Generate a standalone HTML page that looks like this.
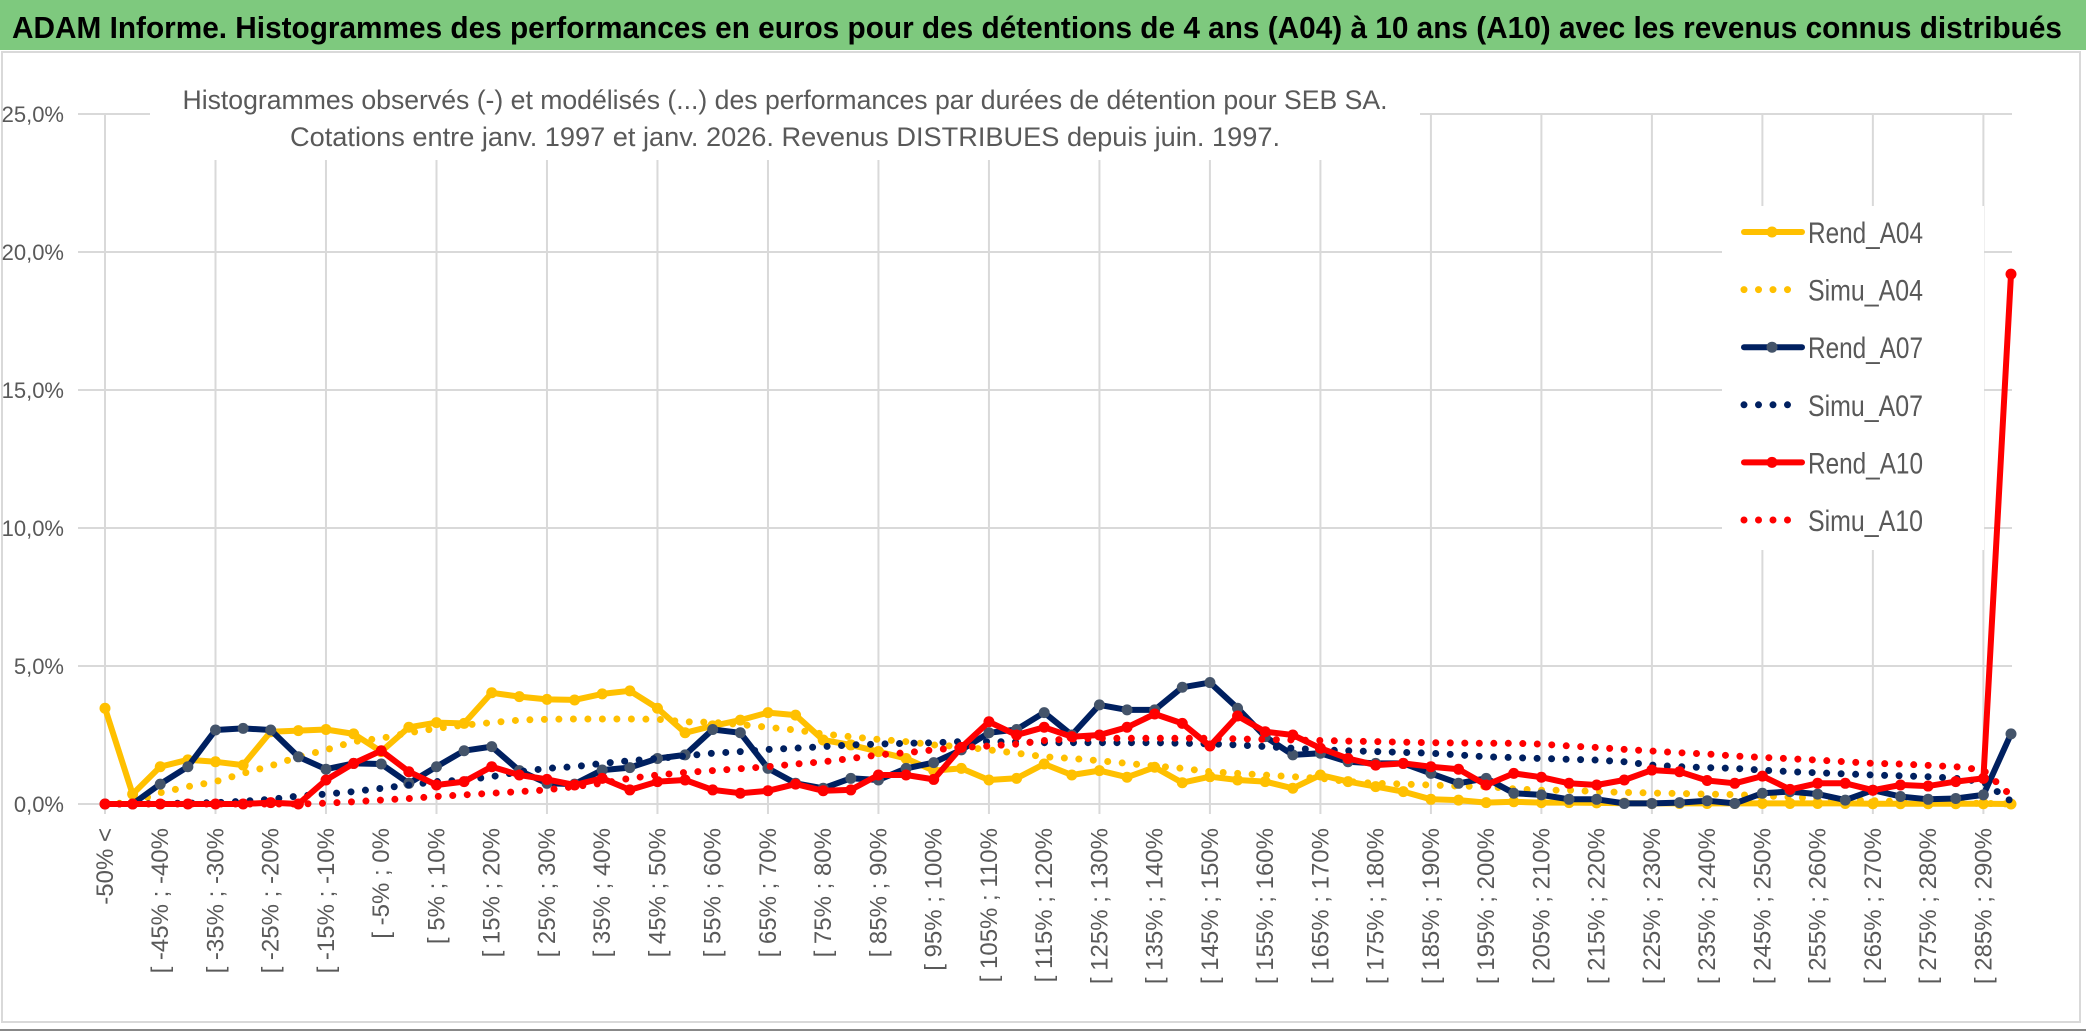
<!DOCTYPE html>
<html><head><meta charset="utf-8"><style>
html,body{margin:0;padding:0;background:#fff;}
svg{display:block;font-family:"Liberation Sans",sans-serif;}
</style></head><body>
<svg id="chart" width="2086" height="1031" viewBox="0 0 2086 1031" xmlns="http://www.w3.org/2000/svg">
<rect x="0" y="0" width="2086" height="1031" fill="#ffffff"/>
<rect x="0" y="0" width="2086" height="50" fill="#7ec97e"/>
<text x="12" y="38" font-size="31" font-weight="bold" fill="#000" textLength="2050" lengthAdjust="spacingAndGlyphs">ADAM Informe. Histogrammes des performances en euros pour des détentions de 4 ans (A04) à 10 ans (A10) avec les revenus connus distribués</text>
<rect x="2" y="52" width="2078" height="970" fill="none" stroke="#d9d9d9" stroke-width="2"/>
<line x1="0" y1="1030" x2="2086" y2="1030" stroke="#888" stroke-width="2"/>
<g id="grid"></g>
<rect x="150" y="60" width="1270" height="100" fill="#fff"/>
<text x="785" y="109" font-size="27" fill="#595959" text-anchor="middle" textLength="1205" lengthAdjust="spacingAndGlyphs">Histogrammes observés (-) et modélisés (...) des performances par durées de détention pour SEB SA.</text>
<text x="785" y="146" font-size="27" fill="#595959" text-anchor="middle" textLength="990" lengthAdjust="spacingAndGlyphs">Cotations entre janv. 1997 et janv. 2026. Revenus DISTRIBUES depuis juin. 1997.</text>
<g id="axes"></g>
<rect x="1722" y="206" width="262" height="344" fill="#fff"/>
<g id="series"></g>
<g id="legend"></g>
</svg>
<script>
const categories = ["-50% <"];
for (let k = 1; k < 70; k++) { const a = -55 + 5*k; categories.push("[ " + a + "% ; " + (a+5) + "%"); }
const yTicks = [0, 5, 10, 15, 20, 25];
const yTickLabels = ["0,0%","5,0%","10,0%","15,0%","20,0%","25,0%"];
const rendA04 = [3.47,0.36,1.35,1.6,1.53,1.41,2.62,2.66,2.7,2.54,1.9,2.78,2.95,2.92,4.03,3.89,3.79,3.77,3.99,4.1,3.47,2.58,2.83,3.04,3.31,3.22,2.32,2.14,1.9,1.65,1.21,1.29,0.87,0.93,1.45,1.05,1.21,0.97,1.33,0.77,0.99,0.87,0.81,0.57,1.05,0.81,0.63,0.45,0.17,0.14,0.05,0.08,0.05,0.05,0.04,0.03,0.02,0.02,0.02,0.02,0.02,0.02,0.02,0.02,0.01,0.01,0.01,0.01,0.01,0.0];
const simuA04 = [0,0.05,0.41,0.63,0.81,1.11,1.38,1.71,1.96,2.26,2.38,2.58,2.74,2.86,2.95,3.04,3.07,3.08,3.08,3.08,3.07,2.98,2.96,2.88,2.78,2.68,2.54,2.44,2.34,2.26,2.14,2.08,1.96,1.84,1.71,1.65,1.57,1.47,1.38,1.29,1.17,1.11,1.05,0.99,0.93,0.81,0.75,0.72,0.69,0.65,0.63,0.55,0.5,0.5,0.45,0.42,0.4,0.38,0.36,0.34,0.3,0.25,0.2,0.16,0.12,0.09,0.06,0.04,0.02,0.0];
const rendA07 = [0,0,0.72,1.35,2.68,2.74,2.68,1.71,1.26,1.47,1.45,0.75,1.35,1.93,2.08,1.21,0.75,0.72,1.23,1.32,1.65,1.78,2.7,2.58,1.29,0.75,0.57,0.93,0.87,1.29,1.5,1.96,2.58,2.7,3.31,2.5,3.59,3.41,3.41,4.23,4.4,3.47,2.44,1.78,1.84,1.53,1.47,1.47,1.11,0.75,0.93,0.39,0.33,0.17,0.17,0.02,0.02,0.05,0.12,0.02,0.39,0.45,0.36,0.14,0.5,0.27,0.17,0.2,0.33,2.54];
const simuA07 = [0,0,0.02,0.03,0.05,0.1,0.17,0.29,0.36,0.45,0.57,0.69,0.81,0.87,0.99,1.17,1.29,1.35,1.47,1.57,1.65,1.74,1.84,1.9,1.98,2.02,2.08,2.14,2.17,2.2,2.22,2.26,2.26,2.25,2.22,2.22,2.22,2.22,2.22,2.2,2.18,2.14,2.08,2.02,1.96,1.93,1.9,1.87,1.84,1.78,1.71,1.68,1.65,1.62,1.59,1.53,1.41,1.35,1.32,1.29,1.23,1.17,1.13,1.09,1.05,1.02,0.99,0.93,0.8,0.1];
const rendA10 = [0,0,0,0,0,0,0.05,0,0.87,1.47,1.93,1.17,0.69,0.81,1.35,1.05,0.89,0.69,0.93,0.51,0.81,0.87,0.51,0.39,0.48,0.72,0.48,0.51,1.05,1.05,0.89,2.05,2.98,2.5,2.78,2.44,2.5,2.78,3.26,2.92,2.1,3.19,2.62,2.5,2.02,1.65,1.41,1.47,1.35,1.26,0.69,1.11,0.97,0.75,0.69,0.87,1.23,1.17,0.85,0.75,1.01,0.53,0.75,0.75,0.5,0.69,0.65,0.81,0.93,19.2];
const simuA10 = [0,0,0,0,0,0,0,0,0.03,0.08,0.14,0.2,0.27,0.33,0.39,0.45,0.51,0.63,0.75,0.93,1.05,1.14,1.21,1.28,1.35,1.45,1.53,1.65,1.78,1.86,1.96,2.05,2.1,2.17,2.3,2.36,2.38,2.38,2.38,2.38,2.38,2.36,2.34,2.32,2.3,2.28,2.26,2.24,2.22,2.21,2.2,2.2,2.17,2.1,2.05,1.98,1.92,1.86,1.81,1.74,1.69,1.64,1.59,1.53,1.47,1.45,1.4,1.35,1.23,0.3];

const NS = "http://www.w3.org/2000/svg";
const X0 = 105, X1 = 2011, Y0 = 804, PXPCT = 27.6;
const xs = i => X0 + i * (X1 - X0) / (categories.length - 1);
const ys = v => Y0 - v * PXPCT;
function mk(tag, attrs, parent) { const e = document.createElementNS(NS, tag); for (const k in attrs) e.setAttribute(k, attrs[k]); parent.appendChild(e); return e; }

const grid = document.getElementById("grid");
yTicks.forEach((t, i) => {
  const l = mk("line", {x1: 78, x2: 2012, y1: ys(t), y2: ys(t), stroke: "#d9d9d9", "stroke-width": 2}, grid);
  
  
});
for (let i = 0; i < categories.length; i += 4) {
  const l = mk("line", {x1: xs(i), x2: xs(i), y1: ys(25), y2: 814, stroke: "#d9d9d9", "stroke-width": 2}, grid);
  
  
}
const axes = document.getElementById("axes");
yTicks.forEach((t, i) => {
  const tx = mk("text", {x: 64, y: ys(t) + 8, "font-size": 22, fill: "#595959", "text-anchor": "end"}, axes);
  tx.textContent = yTickLabels[i];
  
  
});
categories.forEach((c, i) => {
  if (i % 2 === 1) return;
  const x = xs(i) + 8, y = 828;
  const tx = mk("text", {x: x, y: y, "font-size": 24, fill: "#595959", "text-anchor": "end", transform: "rotate(-90 " + x + " " + y + ")"}, axes);
  tx.textContent = c;
  
  
});

const series = document.getElementById("series");
function pts(arr) { return arr.map((v, i) => xs(i).toFixed(1) + "," + ys(v).toFixed(1)).join(" "); }
function solid(arr, color, mcolor, name) {
  const g = mk("g", {}, series);
  
  
  mk("polyline", {points: pts(arr), fill: "none", stroke: color, "stroke-width": 6, "stroke-linejoin": "round"}, g);
  arr.forEach((v, i) => {
    const c = mk("circle", {cx: xs(i), cy: ys(v), r: 5.5, fill: mcolor}, g);
    
    
  });
}
function dotted(arr, color, name) {
  const p = mk("polyline", {points: pts(arr), fill: "none", stroke: color, "stroke-width": 7, "stroke-linecap": "round", "stroke-dasharray": "0 14.5"}, series);
  
  
}
solid(rendA04, "#FFC000", "#FFC000", "rend-a04-line");
dotted(simuA04, "#FFC000", "simu-a04-line");
solid(rendA07, "#002060", "#44546A", "rend-a07-line");
dotted(simuA07, "#002060", "simu-a07-line");
solid(rendA10, "#FF0000", "#FF0000", "rend-a10-line");
dotted(simuA10, "#FF0000", "simu-a10-line");

const legend = document.getElementById("legend");
const legendNames = ["Rend_A04","Simu_A04","Rend_A07","Simu_A07","Rend_A10","Simu_A10"];
const legendColors = ["#FFC000","#FFC000","#002060","#002060","#FF0000","#FF0000"];
const legendMarker = ["#FFC000",null,"#44546A",null,"#FF0000",null];
legendNames.forEach((n, i) => {
  const y = 232 + i * 57.6;
  const g = mk("g", {}, legend);
  
  
  if (legendMarker[i]) {
    mk("line", {x1: 1744, x2: 1802, y1: y, y2: y, stroke: legendColors[i], "stroke-width": 6, "stroke-linecap": "round"}, g);
    mk("circle", {cx: 1772, cy: y, r: 5.5, fill: legendMarker[i]}, g);
  } else {
    mk("line", {x1: 1744, x2: 1802, y1: y, y2: y, stroke: legendColors[i], "stroke-width": 7, "stroke-linecap": "round", "stroke-dasharray": "0 14.5"}, g);
  }
  const t = mk("text", {x: 1808, y: y + 11, "font-size": 30, fill: "#595959", textLength: 115, lengthAdjust: "spacingAndGlyphs"}, g);
  t.textContent = n;
});
</script>
</body></html>
